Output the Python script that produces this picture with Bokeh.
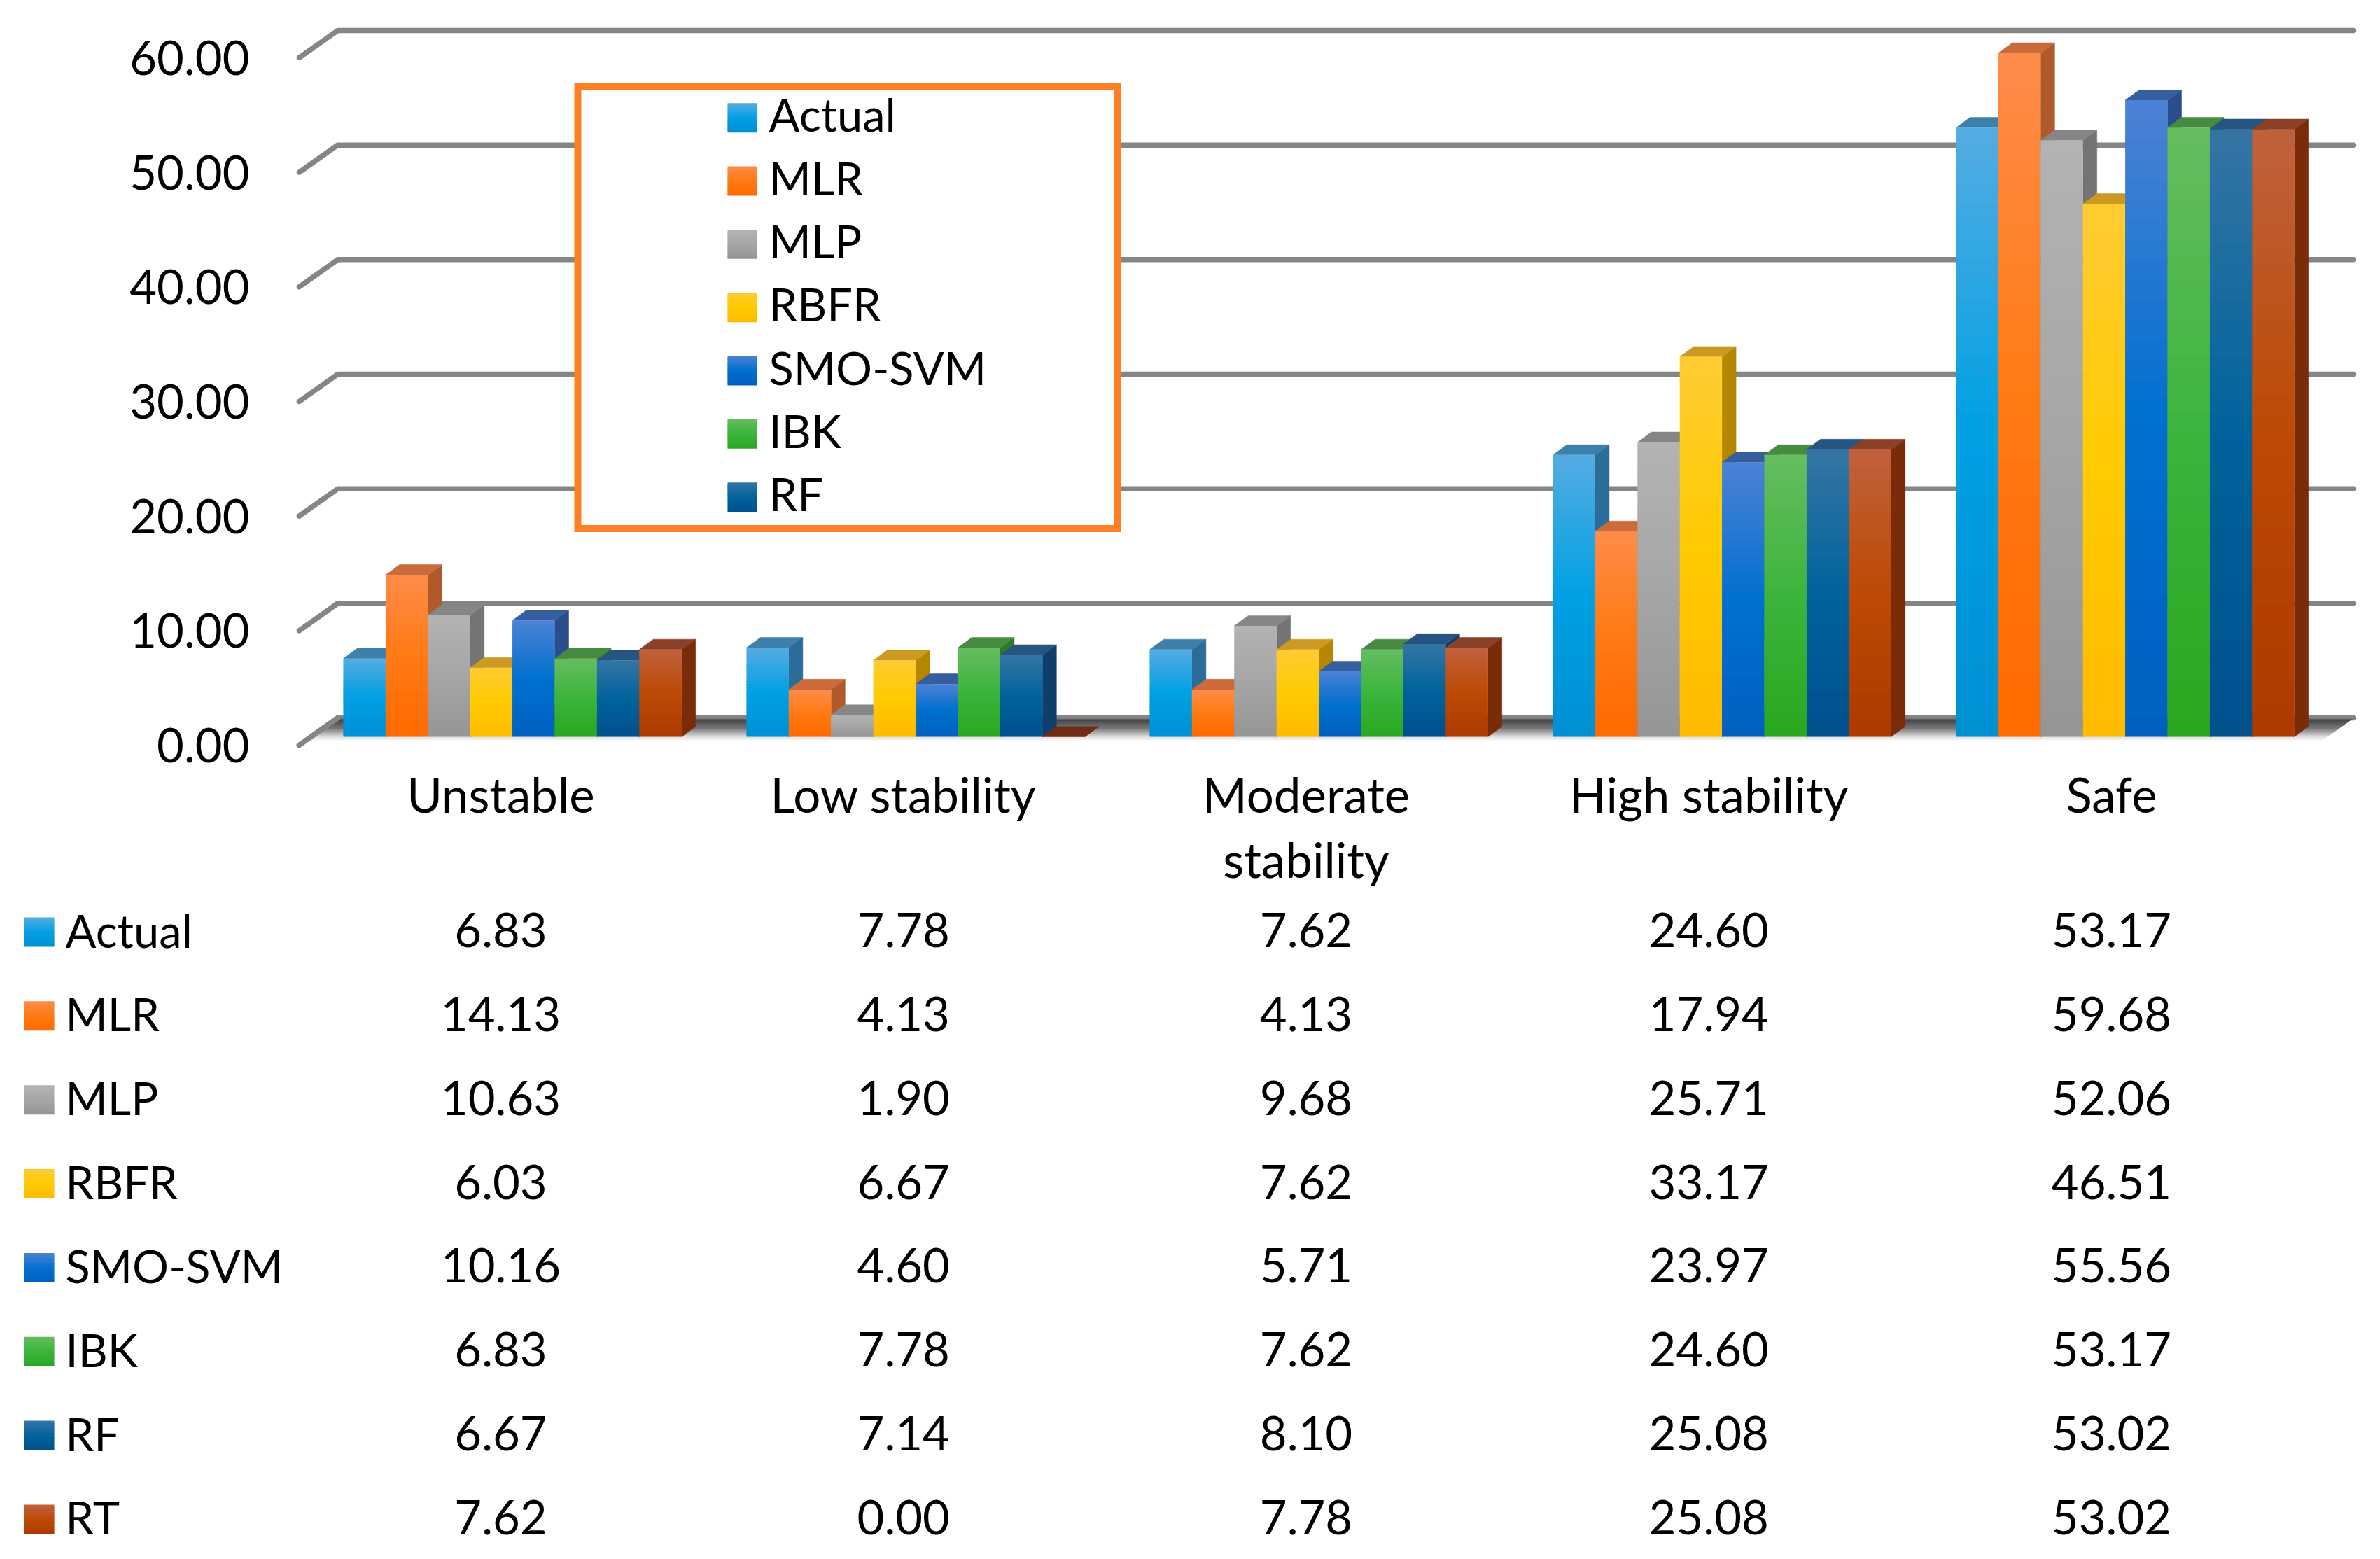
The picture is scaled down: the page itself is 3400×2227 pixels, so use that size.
from bokeh.plotting import figure
from bokeh.models import Range1d, LinearAxis, FixedTicker, NumeralTickFormatter
from bokeh.layouts import column
from bokeh.embed import file_html
from bokeh.resources import INLINE
from bokeh.core.properties import value

categories = ["Unstable", "Low stability", "Moderate\nstability", "High stability", "Safe"]
actual = [6.83, 7.78, 7.62, 24.60, 53.17]
mlr = [14.13, 4.13, 4.13, 17.94, 59.68]
mlp = [10.63, 1.90, 9.68, 25.71, 52.06]
rbfr = [6.03, 6.67, 7.62, 33.17, 46.51]
smo_svm = [10.16, 4.60, 5.71, 23.97, 55.56]
ibk = [6.83, 7.78, 7.62, 24.60, 53.17]
rf = [6.67, 7.14, 8.10, 25.08, 53.02]
rt = [7.62, 0.00, 7.78, 25.08, 53.02]
series_names = ["Actual", "MLR", "MLP", "RBFR", "SMO-SVM", "IBK", "RF", "RT"]
series_values = [actual, mlr, mlp, rbfr, smo_svm, ibk, rf, rt]
y_ticks = [0, 10, 20, 30, 40, 50, 60]

# colours: front gradient (top, middle, bottom), side, top face
front_colors = [
    ("#55ACE2", "#00A0E3", "#0090D4"), ("#FF8C4B", "#FF7A14", "#FF6A00"),
    ("#B3B3B3", "#A6A6A6", "#959595"), ("#FFCB33", "#FFCB00", "#FFBA00"),
    ("#4D82D6", "#0070CF", "#0060C0"), ("#65BD60", "#3CB43C", "#2AA820"),
    ("#3575A5", "#00639C", "#00508C"), ("#C0613D", "#BC4A04", "#AD3A00"),
]
side_colors = ["#2B6C99", "#B05A2B", "#747474", "#B58600", "#2A4E8C", "#2E7A2B", "#0E3F6B", "#7A2C08"]
top_colors = ["#3D80AC", "#CB6A3A", "#868686", "#CC9A22", "#365E9E", "#478A42", "#265582", "#8B4028"]

# layout, in pixels of the picture
W, H1, H2 = 3384, 1272, 947
FONT = "Lato"
FS = "65px"
FS_NUM = "67px"
FS_CAT = "69px"
PX_X = 576.0            # one category
PX_Y = 16.4             # one unit of value
X0 = 427.0              # left end of the floor front
BASE = 1054.0           # zero of the bars
FRAME_L, FRAME_T, FRAME_B = 420.0, 20.0, 1070.0
WALL = 27.0 / PX_Y      # back wall above the bar zero
FRONT = 12.0 / PX_Y     # front axis below the bar zero
DEPTH_X = 55.0 / PX_X
LABEL_STEP = 575.25 / PX_X   # the label columns sit a little closer than the bars


def hx(c):
    return [int(c[i:i + 2], 16) for i in (1, 3, 5)]


def mix(a, b, t):
    a, b = hx(a), hx(b)
    return "#%02x%02x%02x" % tuple(round(a[i] + (b[i] - a[i]) * t) for i in range(3))


def grad(cols, t):
    return mix(cols[0], cols[1], t * 2) if t < 0.5 else mix(cols[1], cols[2], (t - 0.5) * 2)


def px2x(px):
    return (px - X0) / PX_X


def px2y(px):
    return (BASE - px) / PX_Y


p = figure(width=W, height=H1, output_backend="svg", toolbar_location=None,
           x_range=Range1d(px2x(FRAME_L), px2x(W)),
           y_range=Range1d(px2y(FRAME_B), px2y(FRAME_T)),
           y_axis_location=None, frame_align=False,
           min_border_left=int(FRAME_L), min_border_right=0,
           min_border_top=int(FRAME_T), min_border_bottom=int(H1 - FRAME_B))
p.outline_line_color = None
p.xgrid.visible = False
p.ygrid.visible = False
p.background_fill_color = "white"

# y axis, aligned to the front edge of the floor
p.extra_y_ranges["front"] = Range1d(px2y(FRAME_B) + FRONT, px2y(FRAME_T) + FRONT)
ax = LinearAxis(y_range_name="front", ticker=FixedTicker(ticks=y_ticks),
                formatter=NumeralTickFormatter(format="0.00"))
ax.axis_line_color = None
ax.major_tick_line_color = None
ax.minor_tick_line_color = None
ax.major_label_text_font = FONT
ax.major_label_text_font_size = FS_NUM
ax.major_label_text_color = "black"
ax.major_tick_in = 0
ax.major_tick_out = 0
ax.major_label_standoff = 64
p.add_layout(ax, "left")

# x axis
xa = p.xaxis[0]
cat_ticks = [0.5 + i * LABEL_STEP for i in range(len(categories))]
xa.ticker = FixedTicker(ticks=cat_ticks)
xa.major_label_overrides = dict(zip(cat_ticks, categories))
xa.axis_line_color = None
xa.major_tick_line_color = None
xa.minor_tick_line_color = None
xa.major_tick_in = 0
xa.major_tick_out = 0
xa.major_label_text_font = FONT
xa.major_label_text_font_size = FS_CAT
xa.major_label_text_color = "black"
xa.major_label_standoff = 24
xa.major_label_text_line_height = 1.13

# wall lines
n_cat = len(categories)
LINE = dict(line_color="#858585", line_width=7.5, line_cap="round", line_join="round")
for v in y_ticks:
    if v > 0:
        p.line([0, DEPTH_X, n_cat + DEPTH_X], [v - FRONT, v + WALL, v + WALL], **LINE)

# floor shadow
stops = [(0.0, "#7a7a7a"), (0.1, "#3e3e3e"), (0.4, "#7c7c7c"), (0.72, "#e6e6e6"), (0.85, "#ffffff"), (1.0, "#ffffff")]
fx, fy, fc = [], [], []
K = 40
for k in range(K):
    t0, t1 = 0.03 + 0.97 * k / K, 0.03 + 0.97 * (k + 1) / K
    yb = WALL - t0 * (WALL + FRONT)
    yf = WALL - t1 * (WALL + FRONT)
    xb = DEPTH_X * (1 - t0)
    xf = DEPTH_X * (1 - t1)
    fx.append([xb, xb + n_cat, xf + n_cat, xf])
    fy.append([yb, yb, yf, yf])
    for (a, ca), (b, cb) in zip(stops, stops[1:]):
        if a <= t0 <= b:
            fc.append(mix(ca, cb, (t0 - a) / (b - a)))
            break
p.line([0, DEPTH_X, n_cat + DEPTH_X], [-FRONT, WALL, WALL], **LINE)
p.patches(fx, fy, fill_color=fc, line_color=fc, line_width=0.5)
p.line([0, DEPTH_X], [-FRONT, WALL], **LINE)

# bars
BAR_W = 60.4 / PX_X
BAR_START = 63.0 / PX_X
DX = 20.0 / PX_X
DY = 14.7 / PX_Y
SL = 32
for c in range(n_cat):
    for s, vals in enumerate(series_values):
        v = vals[c]
        l = c + BAR_START + s * BAR_W
        r = l + BAR_W
        top_col = top_colors[s] if v > 0 else "#6E2D14"
        p.patches(
            [[r, r + DX, r + DX, r], [l, r, r + DX, l + DX]],
            [[0, DY, v + DY, v], [v, v, v + DY, v + DY]],
            fill_color=[side_colors[s], top_col],
            line_color=[side_colors[s], top_col], line_width=0.5)
        if v > 0:
            tops = [v * (1 - i / SL) for i in range(SL)]
            # each slice runs under the next one, so that no seam shows
            bots = [max(0.0, v * (1 - (i + 1) / SL) - 1.5 / PX_Y) for i in range(SL)]
            cols = [grad(front_colors[s], (i + 0.5) / SL) for i in range(SL)]
            p.quad(left=[l] * SL, right=[r] * SL, top=tops, bottom=bots,
                   fill_color=cols, line_color=None)

# legend box (the RT entry is cut off in the original)
p.quad(left=[px2x(825)], right=[px2x(1596)], top=[px2y(123)], bottom=[px2y(756)],
       fill_color="white", line_color="#FF7F27", line_width=10, line_join="miter")


def swatch(fig, x0, x1, y0, y1, cols, n=12):
    ys = [y0 + (y1 - y0) * i / n for i in range(n + 1)]
    ext = (y1 - y0) * 0.04
    cc = [grad(cols, (i + 0.5) / n) for i in range(n)]
    bots = [ys[i + 1] + (ext if i < n - 1 else 0) for i in range(n)]
    fig.quad(left=[x0] * n, right=[x1] * n, top=ys[:-1], bottom=bots, fill_color=cc, line_color=None)


for i in range(7):
    cy = 168 + i * 90.5
    swatch(p, px2x(1039), px2x(1081), px2y(cy - 21), px2y(cy + 21), front_colors[i])
    p.text([px2x(1098)], [px2y(cy - 5)], text=[series_names[i]], text_font=value(FONT),
           text_font_size=FS, text_baseline="middle", text_align="left", text_color="black")

# data table
ROW = 119.85
ROW0 = 1331.0 - H1
TEXT_UP = 3.0 / ROW
t = figure(width=W, height=H2, output_backend="svg", toolbar_location=None,
           x_range=Range1d(px2x(0), px2x(W)),
           y_range=Range1d((H2 - ROW0) / ROW, -ROW0 / ROW),
           x_axis_location=None, y_axis_location=None, frame_align=False,
           min_border=0, min_border_left=0, min_border_right=0, min_border_top=0, min_border_bottom=0)
t.outline_line_color = None
t.xgrid.visible = False
t.ygrid.visible = False
for r, name in enumerate(series_names):
    swatch(t, px2x(34), px2x(77), r - 21 / ROW, r + 21 / ROW, front_colors[r])
    t.text([px2x(93)], [r - TEXT_UP], text=[name], text_font=value(FONT), text_font_size=FS,
           text_baseline="middle", text_align="left", text_color="black")
    for c in range(n_cat):
        t.text([0.5 + c * LABEL_STEP], [r - TEXT_UP], text=["%.2f" % series_values[r][c]], text_font=value(FONT),
               text_font_size=FS_NUM, text_baseline="middle", text_align="center", text_color="black")

page = column(p, t, spacing=0)
open("out.html", "w").write(file_html(page, INLINE))
